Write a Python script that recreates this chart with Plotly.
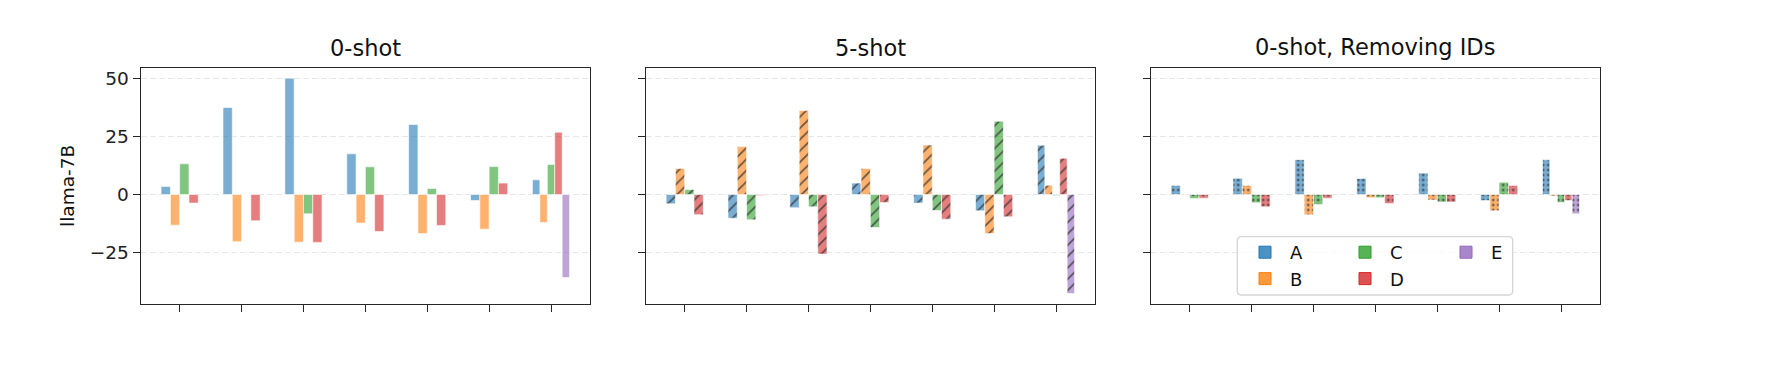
import plotly.graph_objects as go

# ---------------- data ----------------
groups = [0, 1, 2, 3, 4, 5, 6]          # seven unlabeled groups
models = ["A", "B", "C", "D", "E"]
titles = ["0-shot", "5-shot", "0-shot, Removing IDs"]
ylabel = "llama-7B"
yticks = [-25, 0, 25, 50]

# 0-shot
s0_A = [3.4, 37.4, 50.0, 17.5, 30.1, -2.6, 6.3]
s0_B = [-13.2, -20.3, -20.5, -12.3, -16.8, -14.9, -12.0]
s0_C = [13.2, 0.0, -8.3, 11.9, 2.6, 12.0, 12.9]
s0_D = [-3.7, -11.3, -20.6, -15.9, -13.3, 4.9, 26.8]
s0_E = [None, None, None, None, None, None, -35.7]

# 5-shot
s5_A = [-4.0, -10.2, -5.7, 4.9, -3.7, -7.0, 21.2]
s5_B = [11.2, 20.6, 36.1, 11.2, 21.3, -16.8, 4.0]
s5_C = [2.1, -10.9, -5.3, -14.2, -6.9, 31.5, -0.4]
s5_D = [-8.7, -0.4, -25.6, -3.4, -10.6, -9.6, 15.6]
s5_E = [None, None, None, None, None, None, -42.6]

# 0-shot, removing IDs
rm_A = [3.9, 7.0, 15.0, 6.9, 9.2, -2.6, 14.9]
rm_B = [0.2, 3.9, -8.7, -1.4, -2.4, -7.0, -0.6]
rm_C = [-1.7, -3.6, -4.3, -1.4, -3.2, 5.3, -3.4]
rm_D = [-1.6, -5.3, -1.6, -3.9, -3.2, 3.9, -2.6]
rm_E = [None, None, None, None, None, None, -8.3]

panels = [
    [s0_A, s0_B, s0_C, s0_D, s0_E],
    [s5_A, s5_B, s5_C, s5_D, s5_E],
    [rm_A, rm_B, rm_C, rm_D, rm_E],
]

# ---------------- style ----------------
PAGE_W, PAGE_H = 1771, 365
OFF = 8                       # default body margin of the page
W, H = PAGE_W - 2 * OFF, PAGE_H - 2 * OFF
FONT = "DejaVu Sans"
base_rgb = {"A": (31, 119, 180), "B": (255, 127, 14), "C": (44, 160, 44),
            "D": (214, 39, 40), "E": (148, 103, 189)}
patterns = [None, "/", "."]
GROUP_W = 0.6


def px_x(p):
    return (p - OFF) / W


def px_y(p):
    return (H - (p - OFF)) / H


x_px = [(140.7, 590.0), (645.7, 1095.0), (1150.7, 1600.0)]
y_px = (67.5, 304.3)  # top, bottom (page pixels)
xdom = [(px_x(a), px_x(b)) for a, b in x_px]
ydom = (px_y(y_px[1]), px_y(y_px[0]))

all_vals = [v for p in panels for s in p for v in s if v is not None]
vmin, vmax = min(all_vals), max(all_vals)
pad = 0.05 * (vmax - vmin)
yrange = [vmin - pad, vmax + pad]
span = groups[-1] - groups[0] + GROUP_W
xrange = [groups[0] - GROUP_W / 2 - 0.05 * span, groups[-1] + GROUP_W / 2 + 0.05 * span]


def rgba(rgb, a):
    return f"rgba({rgb[0]},{rgb[1]},{rgb[2]},{a})"


fig = go.Figure()

for pi, series in enumerate(panels):
    ax = "" if pi == 0 else str(pi + 1)
    present = [[mi for mi in range(len(models)) if series[mi][g] is not None]
               for g in range(len(groups))]
    for mi, m in enumerate(models):
        widths, offsets = [], []
        for g in range(len(groups)):
            n = len(present[g])
            w = GROUP_W / n
            k = present[g].index(mi) if mi in present[g] else 0
            widths.append(w)
            offsets.append(-GROUP_W / 2 + k * w)
        marker = dict(color=rgba(base_rgb[m], 0.6),
                      line=dict(color="rgba(255,255,255,0.6)", width=1))
        if patterns[pi] == "/":
            marker["pattern"] = dict(shape="/", fgcolor="#333333", fgopacity=0.75,
                                     size=8, solidity=0.22)
        elif patterns[pi] == ".":
            marker["pattern"] = dict(shape=".", fgcolor="#333333", fgopacity=0.85,
                                     size=5, solidity=0.18)
        fig.add_trace(go.Bar(
            x=groups, y=series[mi], width=widths, offset=offsets,
            marker=marker, name=m, showlegend=False,
            xaxis="x" + ax, yaxis="y" + ax, hoverinfo="x+y+name"))

# legend proxy entries (column layout: A/B, C/D, E)
legend_cols = [["A", "B"], ["C", "D"], ["E"]]
legend_names = ["legend", "legend2", "legend3"]
for ci, col in enumerate(legend_cols):
    for m in col:
        fig.add_trace(go.Bar(
            x=[None], y=[None], name=m, xaxis="x3", yaxis="y3",
            marker=dict(color=rgba(base_rgb[m], 0.8),
                        line=dict(color=rgba(base_rgb[m], 1.0), width=1)),
            legend=legend_names[ci], showlegend=True))

axis_common = dict(showline=True, mirror=True, linecolor="#262626", linewidth=1.3,
                   ticks="outside", tickcolor="#262626", tickwidth=1.3)

layout = dict(
    width=W, height=H, margin=dict(l=0, r=0, t=0, b=0),
    paper_bgcolor="white", plot_bgcolor="white",
    barmode="overlay", font=dict(family=FONT, color="#111111"),
)
for pi in range(3):
    ax = "" if pi == 0 else str(pi + 1)
    layout["xaxis" + ax] = dict(
        domain=list(xdom[pi]), range=xrange, anchor="y" + ax,
        tickmode="array", tickvals=groups, ticktext=["" for _ in groups],
        ticklen=7, showgrid=False, zeroline=False, **axis_common)
    layout["yaxis" + ax] = dict(
        domain=list(ydom), range=yrange, anchor="x" + ax,
        tickmode="array", tickvals=yticks,
        ticktext=[("\u2212" + str(-t)) if t < 0 else str(t) for t in yticks] if pi == 0 else ["" for _ in yticks],
        ticklen=7, showticklabels=(pi == 0), tickfont=dict(size=18.5, color="#222222"),
        showgrid=True, gridcolor="#e6e6e6", gridwidth=1, griddash="6px,3px",
        zeroline=False, **axis_common)
layout["yaxis"]["title"] = dict(text=ylabel, font=dict(size=18.5, color="#111111"), standoff=10)

# titles
annotations = []
for pi in range(3):
    annotations.append(dict(
        text=titles[pi], xref="paper", yref="paper",
        x=(xdom[pi][0] + xdom[pi][1]) / 2, y=ydom[1], yanchor="bottom", xanchor="center",
        yshift=5, showarrow=False, font=dict(size=22.5, family=FONT, color="#111111")))
layout["annotations"] = annotations

# legends
leg_x_px = [1240, 1340, 1441]
for ci, ln in enumerate(legend_names):
    layout[ln] = dict(x=px_x(leg_x_px[ci]), y=px_y(234), xanchor="left", yanchor="top",
                      bgcolor="rgba(0,0,0,0)", borderwidth=0, itemwidth=40,
                      font=dict(size=18, family=FONT, color="#111111"),
                      tracegroupgap=0, orientation="v")

# legend frame (rounded)
x0, x1 = px_x(1237.3), px_x(1512.7)
y0, y1 = px_y(295.0), px_y(236.7)
rx, ry = 4 / W, 4 / H
path = (f"M{x0+rx},{y0} L{x1-rx},{y0} Q{x1},{y0} {x1},{y0+ry} L{x1},{y1-ry} "
        f"Q{x1},{y1} {x1-rx},{y1} L{x0+rx},{y1} Q{x0},{y1} {x0},{y1-ry} "
        f"L{x0},{y0+ry} Q{x0},{y0} {x0+rx},{y0} Z")
layout["shapes"] = [dict(type="path", path=path, xref="paper", yref="paper",
                         line=dict(color="#d5d5d5", width=1.3),
                         fillcolor="rgba(255,255,255,0.8)", layer="above")]

fig.update_layout(**layout)
fig.write_html("out.html")
